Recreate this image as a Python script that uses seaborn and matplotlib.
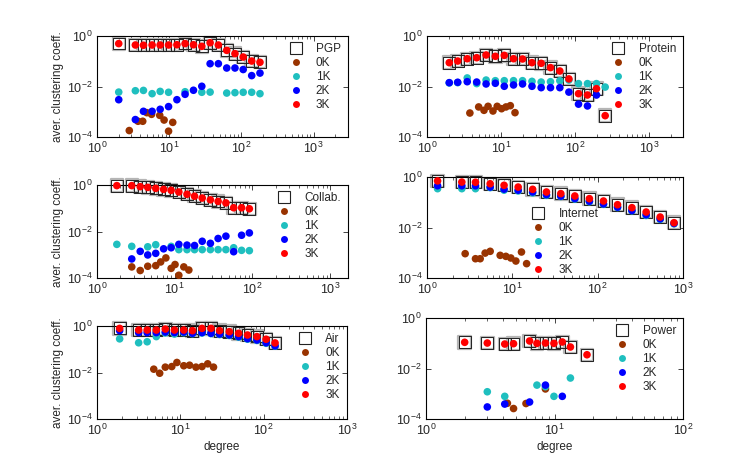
import numpy as np
import matplotlib
matplotlib.use("Agg")
import matplotlib.pyplot as plt
import seaborn as sns
from matplotlib.lines import Line2D
from matplotlib.ticker import LogLocator, NullLocator

# ---- data ----
pgp_deg = [2.0, 3.4, 4.4, 5.8, 7.5, 9.8, 12.8, 16.6, 21.7, 28.3, 36.9, 48, 62.7, 81.5, 106, 139, 181]
pgp_orig = [0.50, 0.44, 0.43, 0.44, 0.44, 0.44, 0.45, 0.50, 0.45, 0.39, 0.54, 0.44, 0.27, 0.20, 0.147, 0.102, 0.091]
pgp_3k = [0.50, 0.44, 0.43, 0.44, 0.44, 0.44, 0.45, 0.50, 0.45, 0.39, 0.54, 0.44, 0.27, 0.20, 0.147, 0.102, 0.091]
pgp_2k = [0.0030, 0.00049, 0.00104, 0.00104, 0.00125, 0.0016, 0.0030, 0.0049, 0.0071, 0.0102,
          0.080, 0.080, 0.054, 0.054, 0.047, 0.027, 0.034]
pgp_1k_deg = [2.0, 3.4, 4.4, 5.8, 7.5, 9.8, 16.6, 28.3, 36.9, 62.7, 81.5, 106, 139, 181]
pgp_1k = [0.0060, 0.0068, 0.0070, 0.0052, 0.0064, 0.0059, 0.0062, 0.0059, 0.0060, 0.0055, 0.0057, 0.0059, 0.0059, 0.0052]
pgp_0k_deg = [2.8, 3.7, 4.3, 4.9, 5.7, 7.4, 8.5, 9.8, 11.2]
pgp_0k = [1.8e-4, 4.2e-4, 4.2e-4, 9.2e-4, 7.9e-4, 7.2e-4, 4.7e-4, 1.7e-4, 3.8e-4]

prot_deg = [2.0, 2.6, 3.5, 4.7, 6.3, 8.4, 11.1, 14.8, 19.6, 26.3, 35, 46.8, 62.6, 83, 112, 148, 196, 257]
prot_orig = [0.088, 0.102, 0.126, 0.138, 0.177, 0.157, 0.171, 0.126, 0.123, 0.088, 0.083, 0.056, 0.041,
             0.020, 0.0052, 0.0046, 0.0082, 0.0007]
prot_3k = [0.088, 0.102, 0.126, 0.138, 0.177, 0.157, 0.171, 0.126, 0.123, 0.088, 0.083, 0.056, 0.041,
           0.020, 0.0052, 0.0046, 0.0082, 0.0007]
prot_1k = [0.0138, 0.0142, 0.0218, 0.0130, 0.018, 0.017, 0.017, 0.017, 0.017, 0.016, 0.015, 0.0155,
           0.017, 0.018, 0.013, 0.013, 0.013, 0.0095]
prot_2k_deg = [2.0, 2.6, 3.5, 4.7, 6.3, 8.4, 11.1, 14.8, 19.6, 26.3, 35, 46.8, 62.6, 83, 112, 148, 196]
prot_2k = [0.0142, 0.0147, 0.0155, 0.015, 0.0126, 0.0134, 0.0102, 0.0115, 0.0126, 0.0102, 0.0090,
           0.0090, 0.0090, 0.0060, 0.0020, 0.0017, 0.0046]
prot_0k_deg = [3.8, 5.0, 5.9, 6.7, 7.8, 8.9, 10.2, 11.7, 13.4, 15.5]
prot_0k = [0.00089, 0.00155, 0.00114, 0.00164, 0.00107, 0.00164, 0.00132, 0.00155, 0.00174, 0.00092]

col_deg = [1.8, 2.8, 3.6, 4.5, 5.7, 7.2, 9.0, 11.3, 14.4, 18, 22.6, 28.8, 36.2, 45.6, 57.4, 72.6, 91.4]
col_orig = [0.94, 0.94, 0.85, 0.79, 0.72, 0.65, 0.59, 0.50, 0.40, 0.33, 0.275, 0.23, 0.197, 0.17, 0.105, 0.105, 0.095]
col_3k = [0.94, 0.94, 0.85, 0.79, 0.72, 0.65, 0.59, 0.50, 0.40, 0.33, 0.275, 0.23, 0.197, 0.17, 0.105, 0.105, 0.095]
col_1k_deg = [1.8, 2.8, 4.5, 5.7, 9.0, 11.3, 14.4, 18, 22.6, 28.8, 36.2, 45.6, 57.4, 72.6, 91.4]
col_1k = [0.0028, 0.0023, 0.0022, 0.0027, 0.0023, 0.00166, 0.00166, 0.00166, 0.00166, 0.00166,
          0.00166, 0.00166, 0.0020, 0.00155, 0.0015]
col_2k_deg = [2.8, 3.6, 4.5, 5.7, 7.2, 9.0, 11.3, 14.4, 18, 22.6, 28.8, 36.2, 45.6, 57.4, 72.6, 91.4]
col_2k = [0.00066, 0.0014, 0.00098, 0.00115, 0.0018, 0.0020, 0.0028, 0.0026, 0.0025, 0.0038, 0.0031,
          0.0050, 0.0063, 0.00135, 0.0069, 0.0087]
col_0k_deg = [2.8, 3.6, 4.5, 5.7, 6.6, 7.7, 9.0, 10.1, 11.3, 13.1, 15.2]
col_0k = [0.00030, 0.00021, 0.00032, 0.00034, 0.00049, 0.00073, 0.00026, 0.00038, 0.000131, 0.00030, 0.00022]

int_deg = [1.33, 2.56, 3.7, 5.5, 8.0, 11.7, 17.3, 25.1, 37, 54, 80, 117, 171, 252, 370, 540, 785]
int_orig = [0.70, 0.63, 0.62, 0.54, 0.47, 0.40, 0.325, 0.255, 0.22, 0.177, 0.139, 0.112, 0.080, 0.061, 0.041, 0.026, 0.0155]
int_3k = [0.70, 0.63, 0.62, 0.54, 0.47, 0.40, 0.325, 0.255, 0.22, 0.177, 0.139, 0.112, 0.080, 0.061, 0.041, 0.026, 0.0155]
int_2k = [0.45, 0.45, 0.45, 0.40, 0.33, 0.30, 0.255, 0.20, 0.175, 0.14, 0.11, 0.086, 0.064, 0.047, 0.032, 0.022, 0.0145]
int_1k = [0.345, 0.345, 0.345, 0.38, 0.30, 0.28, 0.235, 0.188, 0.17, 0.133, 0.105, 0.083, 0.062, 0.046, 0.030, 0.021, 0.014]
int_0k_deg = [2.8, 3.7, 4.2, 4.8, 5.5, 7.2, 8.4, 9.6, 11, 12.8, 14.7]
int_0k = [0.00092, 0.00058, 0.00058, 0.00097, 0.00114, 0.00079, 0.00072, 0.00062, 0.00047, 0.00107, 0.00037]

air_deg = [1.87, 3.16, 4.0, 5.15, 6.6, 8.5, 11, 14, 18.2, 23.3, 29.6, 38.7, 50, 64, 83, 107, 137]
air_orig = [0.79, 0.67, 0.67, 0.67, 0.74, 0.67, 0.67, 0.63, 0.79, 0.79, 0.63, 0.57, 0.485, 0.41, 0.35, 0.27, 0.187]
air_3k = [0.79, 0.67, 0.67, 0.67, 0.74, 0.67, 0.67, 0.63, 0.79, 0.79, 0.63, 0.57, 0.485, 0.41, 0.35, 0.27, 0.187]
air_2k = [0.63, 0.52, 0.52, 0.52, 0.55, 0.52, 0.55, 0.485, 0.52, 0.485, 0.45, 0.41, 0.35, 0.285, 0.25, 0.19, 0.14]
air_1k = [0.28, 0.19, 0.21, 0.35, 0.50, 0.45, 0.52, 0.47, 0.50, 0.47, 0.43, 0.39, 0.33, 0.27, 0.24, 0.18, 0.135]
air_0k_deg = [4.8, 5.65, 6.6, 7.9, 9.1, 11, 12.9, 15.4, 18.2, 21.3, 25]
air_0k = [0.0139, 0.0093, 0.017, 0.018, 0.027, 0.0195, 0.0206, 0.017, 0.018, 0.0236, 0.017]

pow_deg = [2.0, 3.0, 4.1, 4.8, 6.4, 7.3, 8.5, 9.9, 11.5, 13.3, 17.9]
pow_orig = [0.109, 0.102, 0.093, 0.096, 0.123, 0.099, 0.102, 0.099, 0.112, 0.071, 0.035]
pow_3k = [0.109, 0.102, 0.093, 0.096, 0.123, 0.099, 0.102, 0.099, 0.112, 0.071, 0.035]
pow_1k_deg = [3.0, 4.1, 7.3, 8.5, 9.9, 13.3]
pow_1k = [0.0012, 0.00079, 0.0022, 0.0019, 0.00079, 0.0042]
pow_2k_deg = [3.0, 4.1, 6.4, 8.5, 11.5]
pow_2k = [0.00030, 0.00039, 0.00047, 0.0022, 0.00079]
pow_0k_deg = [4.3, 4.8, 6.0, 8.5]
pow_0k = [0.00042, 0.00026, 0.00041, 0.00155]

c0, c1, c2, c3 = "#993300", "#1fbfbf", "#0000ff", "#ff0000"

sns.set_style("ticks")
plt.rcParams["font.family"] = ["Liberation Sans", "DejaVu Sans"]
plt.rcParams["mathtext.fontset"] = "custom"
plt.rcParams["mathtext.rm"] = "Liberation Sans"
plt.rcParams["mathtext.it"] = "Liberation Sans:italic"
plt.rcParams["mathtext.default"] = "regular"

W, H = 747, 472
fig = plt.figure(figsize=(W / 100, H / 100), dpi=100)


def box(l, r, t, b):
    return [l / W, (H - b) / H, (r - l) / W, (b - t) / H]


panels = [
    ("PGP", box(97, 348, 36, 137), 3000, pgp_deg, pgp_orig,
     [(pgp_0k_deg, pgp_0k), (pgp_1k_deg, pgp_1k), (pgp_deg, pgp_2k), (pgp_deg, pgp_3k)], True, False, None),
    ("Protein", box(427, 683, 36, 137), 2900, prot_deg, prot_orig,
     [(prot_0k_deg, prot_0k), (prot_deg, prot_1k), (prot_2k_deg, prot_2k), (prot_deg, prot_3k)], False, False, None),
    ("Collab.", box(97, 348, 185, 278), 1700, col_deg, col_orig,
     [(col_0k_deg, col_0k), (col_1k_deg, col_1k), (col_2k_deg, col_2k), (col_deg, col_3k)], True, False, None),
    ("Internet", box(427, 683, 177, 278), 1000, int_deg, int_orig,
     [(int_0k_deg, int_0k), (int_deg, int_1k), (int_deg, int_2k), (int_deg, int_3k)], False, False, (0.38, 0.76)),
    ("Air", box(97, 347, 326, 419), 1000, air_deg, air_orig,
     [(air_0k_deg, air_0k), (air_deg, air_1k), (air_deg, air_2k), (air_deg, air_3k)], True, True, None),
    ("Power", box(426, 683, 318, 419), 100, pow_deg, pow_orig,
     [(pow_0k_deg, pow_0k), (pow_1k_deg, pow_1k), (pow_2k_deg, pow_2k), (pow_deg, pow_3k)], False, True, None),
]

for name, pos, xmax, odeg, orig, series, ylab, xlab, leg_anchor in panels:
    ax = fig.add_axes(pos)
    ax.set_xscale("log")
    ax.set_yscale("log")
    # original network: open squares with a soft grey rim
    sns.scatterplot(x=odeg, y=orig, ax=ax, marker="s", s=80, facecolor="none",
                    edgecolor="#b5b5b5", linewidth=1.6, zorder=2, clip_on=False)
    sns.scatterplot(x=odeg, y=orig, ax=ax, marker="s", s=72, facecolor="none",
                    edgecolor="#222222", linewidth=0.7, zorder=3, clip_on=False)
    for (d, v), c in zip(series, [c0, c1, c2, c3]):
        sns.scatterplot(x=d, y=v, ax=ax, marker="o", s=30, color=c, edgecolor="none",
                        zorder=4, clip_on=False)
    ax.set_xlim(1, xmax)
    ax.set_ylim(1e-4, 1)
    ax.set_yticks([1e-4, 1e-2, 1])
    ax.yaxis.set_minor_locator(NullLocator())
    ax.xaxis.set_major_locator(LogLocator(base=10, numticks=10))
    ax.xaxis.set_minor_locator(LogLocator(base=10, subs=np.arange(2, 10), numticks=20))
    ax.tick_params(which="both", direction="in", top=True, right=True, labelsize=9, pad=3)
    ax.tick_params(which="major", length=3.5, width=0.6)
    ax.tick_params(which="minor", length=2, width=0.5)
    for sp in ax.spines.values():
        sp.set_linewidth(0.8)
        sp.set_color("black")
    if ylab:
        ax.set_ylabel("aver. clustering coeff.", fontsize=8.5, labelpad=2)
    else:
        ax.set_ylabel("")
    if xlab:
        ax.set_xlabel("degree", fontsize=8.5, labelpad=2)
    else:
        ax.set_xlabel("")
    handles = [Line2D([], [], marker="s", ls="none", ms=8.5, mfc="none", mec="#222222", mew=0.8)]
    handles += [Line2D([], [], marker="o", ls="none", ms=5, mfc=c, mec="none") for c in [c0, c1, c2, c3]]
    labels = [name, "0K", "1K", "2K", "3K"]
    kw = dict(frameon=False, fontsize=8.5, handlelength=1.2, handletextpad=1.1,
              labelspacing=0.17, borderaxespad=0.2)
    if leg_anchor is None:
        ax.legend(handles, labels, loc="upper right", bbox_to_anchor=(1.0, 1.0), **kw)
    else:
        ax.legend(handles, labels, loc="upper left", bbox_to_anchor=leg_anchor, **kw)

fig.savefig("out.png", dpi=100)
